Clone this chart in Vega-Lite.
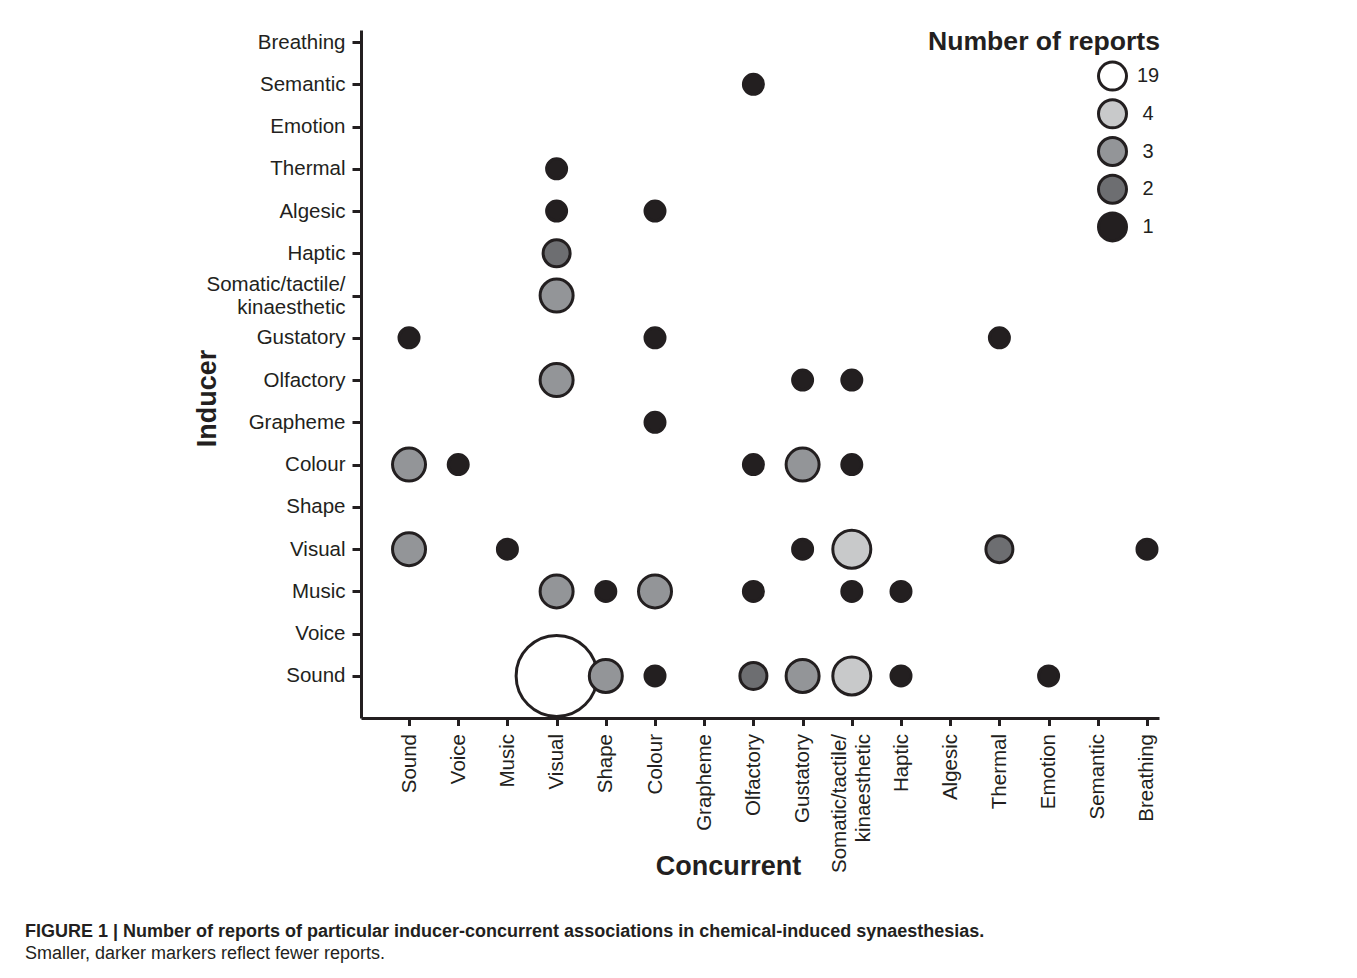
{
  "$schema": "https://vega.github.io/schema/vega-lite/v6.json",
  "width": 798,
  "height": 688,
  "autosize": {"type": "none"},
  "padding": {"left": 361, "top": 30, "right": 198, "bottom": 260},
  "background": "white",
  "title": {
    "text": "FIGURE 1 | Number of reports of particular inducer-concurrent associations in chemical-induced synaesthesias.",
    "subtitle": "Smaller, darker markers reflect fewer reports.",
    "orient": "bottom",
    "anchor": "start",
    "frame": "group",
    "dx": -336,
    "offset": 44,
    "font": "Liberation Sans",
    "fontSize": 18,
    "fontWeight": "bold",
    "color": "#231f20",
    "subtitleFont": "Liberation Sans",
    "subtitleFontSize": 18,
    "subtitleColor": "#231f20",
    "subtitlePadding": 4
  },
  "data": {
    "values": [
      {"inducer": "Sound", "concurrent": "Visual", "n": 19},
      {"inducer": "Semantic", "concurrent": "Olfactory", "n": 1},
      {"inducer": "Thermal", "concurrent": "Visual", "n": 1},
      {"inducer": "Algesic", "concurrent": "Visual", "n": 1},
      {"inducer": "Algesic", "concurrent": "Colour", "n": 1},
      {"inducer": "Haptic", "concurrent": "Visual", "n": 2},
      {"inducer": "Somatic/tactile/kinaesthetic", "concurrent": "Visual", "n": 3},
      {"inducer": "Gustatory", "concurrent": "Sound", "n": 1},
      {"inducer": "Gustatory", "concurrent": "Colour", "n": 1},
      {"inducer": "Gustatory", "concurrent": "Thermal", "n": 1},
      {"inducer": "Olfactory", "concurrent": "Visual", "n": 3},
      {"inducer": "Olfactory", "concurrent": "Gustatory", "n": 1},
      {"inducer": "Olfactory", "concurrent": "Somatic/tactile/kinaesthetic", "n": 1},
      {"inducer": "Grapheme", "concurrent": "Colour", "n": 1},
      {"inducer": "Colour", "concurrent": "Sound", "n": 3},
      {"inducer": "Colour", "concurrent": "Voice", "n": 1},
      {"inducer": "Colour", "concurrent": "Olfactory", "n": 1},
      {"inducer": "Colour", "concurrent": "Gustatory", "n": 3},
      {"inducer": "Colour", "concurrent": "Somatic/tactile/kinaesthetic", "n": 1},
      {"inducer": "Visual", "concurrent": "Sound", "n": 3},
      {"inducer": "Visual", "concurrent": "Music", "n": 1},
      {"inducer": "Visual", "concurrent": "Gustatory", "n": 1},
      {"inducer": "Visual", "concurrent": "Somatic/tactile/kinaesthetic", "n": 4},
      {"inducer": "Visual", "concurrent": "Thermal", "n": 2},
      {"inducer": "Visual", "concurrent": "Breathing", "n": 1},
      {"inducer": "Music", "concurrent": "Visual", "n": 3},
      {"inducer": "Music", "concurrent": "Shape", "n": 1},
      {"inducer": "Music", "concurrent": "Colour", "n": 3},
      {"inducer": "Music", "concurrent": "Olfactory", "n": 1},
      {"inducer": "Music", "concurrent": "Somatic/tactile/kinaesthetic", "n": 1},
      {"inducer": "Music", "concurrent": "Haptic", "n": 1},
      {"inducer": "Sound", "concurrent": "Shape", "n": 3},
      {"inducer": "Sound", "concurrent": "Colour", "n": 1},
      {"inducer": "Sound", "concurrent": "Olfactory", "n": 2},
      {"inducer": "Sound", "concurrent": "Gustatory", "n": 3},
      {"inducer": "Sound", "concurrent": "Somatic/tactile/kinaesthetic", "n": 4},
      {"inducer": "Sound", "concurrent": "Haptic", "n": 1},
      {"inducer": "Sound", "concurrent": "Emotion", "n": 1}
    ]
  },
  "mark": {"type": "circle", "opacity": 1, "stroke": "#231f20", "strokeWidth": 3},
  "encoding": {
    "x": {
      "field": "concurrent",
      "type": "nominal",
      "sort": null,
      "scale": {
        "type": "point",
        "domain": ["Sound", "Voice", "Music", "Visual", "Shape", "Colour", "Grapheme", "Olfactory", "Gustatory", "Somatic/tactile/kinaesthetic", "Haptic", "Algesic", "Thermal", "Emotion", "Semantic", "Breathing"],
        "padding": 0.61,
        "align": 0.8
      },
      "axis": {
        "title": "Concurrent",
        "titleFont": "Liberation Sans",
        "titleFontSize": 27,
        "titleFontWeight": "bold",
        "titleColor": "#231f20",
        "titleX": 367,
        "titleY": 148,
        "titleAlign": "center",
        "titleBaseline": "middle",
        "labelAngle": -90,
        "labelFont": "Liberation Sans",
        "labelFontSize": 20.5,
        "labelColor": "#231f20",
        "labelPadding": 8,
        "labelLineHeight": 24,
        "labelOffset": {"condition": {"test": "datum.value == 'Somatic/tactile/kinaesthetic'", "value": -12}, "value": 0},
        "labelExpr": "datum.value == 'Somatic/tactile/kinaesthetic' ? ['Somatic/tactile/', 'kinaesthetic'] : datum.value",
        "labelOverlap": false,
        "domainColor": "#231f20",
        "domainWidth": 3,
        "tickColor": "#231f20",
        "tickWidth": 3,
        "tickSize": 7.5,
        "grid": false
      }
    },
    "y": {
      "field": "inducer",
      "type": "nominal",
      "sort": null,
      "scale": {
        "type": "point",
        "domain": ["Breathing", "Semantic", "Emotion", "Thermal", "Algesic", "Haptic", "Somatic/tactile/kinaesthetic", "Gustatory", "Olfactory", "Grapheme", "Colour", "Shape", "Visual", "Music", "Voice", "Sound"],
        "padding": 0.64,
        "align": 0.222
      },
      "axis": {
        "title": "Inducer",
        "titleFont": "Liberation Sans",
        "titleFontSize": 27,
        "titleFontWeight": "bold",
        "titleColor": "#231f20",
        "titleX": -154,
        "titleY": 368,
        "titleAngle": -90,
        "titleAlign": "center",
        "titleBaseline": "middle",
        "labelFont": "Liberation Sans",
        "labelFontSize": 20.5,
        "labelColor": "#231f20",
        "labelPadding": 7,
        "labelLineHeight": 23,
        "labelOffset": {"condition": {"test": "datum.value == 'Somatic/tactile/kinaesthetic'", "value": -11.5}, "value": 0},
        "labelExpr": "datum.value == 'Somatic/tactile/kinaesthetic' ? ['Somatic/tactile/', 'kinaesthetic'] : datum.value",
        "labelOverlap": false,
        "domainColor": "#231f20",
        "domainWidth": 3,
        "tickColor": "#231f20",
        "tickWidth": 3,
        "tickSize": 9,
        "grid": false
      }
    },
    "size": {
      "field": "n",
      "type": "quantitative",
      "scale": {"domain": [1, 2, 3, 4, 19], "range": [400, 729, 1089, 1444, 6561]},
      "legend": null
    },
    "fill": {
      "field": "n",
      "type": "nominal",
      "scale": {"type": "ordinal", "domain": [19, 4, 3, 2, 1], "range": ["#ffffff", "#c8c9ca", "#939598", "#6d6e71", "#231f20"]},
      "legend": {
        "orient": "none",
        "legendX": 567,
        "legendY": -1,
        "title": "Number of reports",
        "titleFont": "Liberation Sans",
        "titleFontSize": 26.6,
        "titleFontWeight": "bold",
        "titleColor": "#231f20",
        "titleBaseline": "top",
        "titlePadding": 5,
        "titleLimit": 400,
        "labelFont": "Liberation Sans",
        "labelFontSize": 20,
        "labelColor": "#231f20",
        "labelAlign": "center",
        "labelOffset": 20,
        "symbolType": "circle",
        "symbolSize": 784,
        "symbolStrokeColor": "#231f20",
        "symbolStrokeWidth": 3,
        "symbolOpacity": 1,
        "symbolOffset": 169,
        "rowPadding": -3.3,
        "padding": 0
      }
    }
  },
  "config": {"view": {"stroke": null}, "axis": {"grid": false}}
}
